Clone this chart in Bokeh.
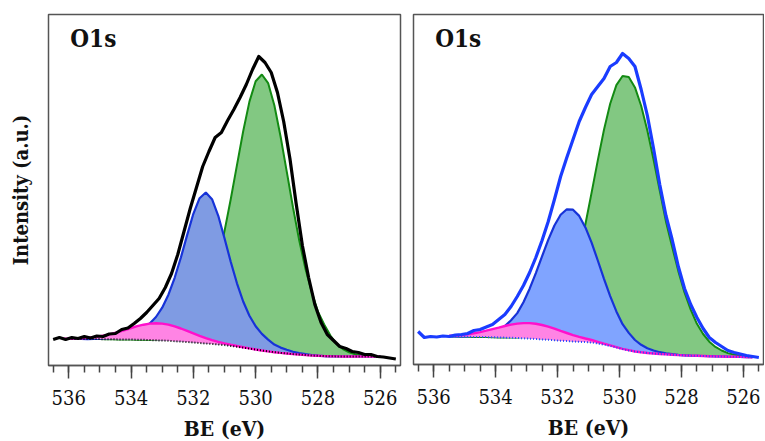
import numpy as np
from bokeh.plotting import figure
from bokeh.layouts import row
from bokeh.models import Range1d, SingleIntervalTicker, FixedTicker, Label
from bokeh.embed import file_html
from bokeh.resources import INLINE

# ---------------- data ----------------
# binding-energy grid of the measured spectra (eV)
be_raw = np.round(np.linspace(536.5, 525.5, 56), 1)

# measured O1s spectrum, left panel (black) and right panel (blue), a.u.
raw_a = [26, 28, 26, 28, 27, 29, 27.5, 29.5, 29, 31.5,
         32, 36, 37.5, 42, 47, 53, 60, 67, 78, 92,
         111, 134, 157, 178, 199, 214, 228, 233, 245, 256,
         268, 281, 296, 309, 303, 293, 273, 244, 207, 162,
         120, 88, 61, 43, 31, 25, 19, 17, 14, 13,
         11, 11, 9, 8.5, 7.5, 6.5]
raw_b = [33, 27, 28, 27.5, 28.5, 28, 29.5, 30, 31, 34,
         35, 37.5, 40, 45, 50, 58, 68, 79, 92, 107,
         124, 143, 165, 188, 207, 225, 243, 257, 270, 278,
         286, 298, 302, 311, 306, 298, 275, 249, 216, 180,
         149, 125, 98, 76, 60, 47, 36, 27, 22, 18,
         14, 12, 10.5, 9, 8, 7]

# fitted components, left panel (grid 536.2 -> 526.0 eV)
be_fit_a = np.round(np.linspace(536.2, 526.0, 52), 1)
base_a = [26.5, 26.5, 26.5, 26.5, 26.4, 26.4, 26.4, 26.3, 26.2, 26.1,
          26.0, 26.0, 25.8, 25.7, 25.5, 25.2, 25.0, 24.7, 24.3, 23.9,
          23.5, 23.0, 22.5, 22.0, 21.5, 21.0, 20.4, 19.6, 18.8, 17.9,
          16.9, 15.9, 15.0, 14.1, 13.3, 12.6, 12.0, 11.4, 10.9, 10.4,
          10.0, 9.7, 9.4, 9.2, 9.1, 9.0, 9.0, 9.0, 9.0, 9.0,
          9.0, 9.0]
pink_a = [0.2, 0.3, 0.5, 0.8, 1.3, 2.0, 2.9, 4.1, 5.7, 7.5,
          9.5, 11.5, 13.5, 15.1, 16.4, 17.0, 16.9, 16.2, 14.8, 13.1,
          11.1, 9.1, 7.1, 5.4, 3.9, 2.7, 1.8, 1.2, 0.7, 0.4,
          0.2, 0.1, 0, 0, 0, 0, 0, 0, 0, 0,
          0, 0, 0, 0, 0, 0, 0, 0, 0, 0,
          0, 0]
blue_a = [0, 0, 0, 0, 0, 0.2, 0.5, 0.9, 1.5, 2.4,
          3.8, 5.3, 7.6, 11.8, 16.6, 23.3, 32.8, 46.1, 63.4, 84.1,
          106.9, 128.7, 144.8, 151, 144.8, 128.7, 106.9, 84.1, 63.4, 46.1,
          32.8, 23.3, 16.6, 11.8, 7.6, 5.3, 3.8, 2.4, 1.5, 0.9,
          0.5, 0.2, 0, 0, 0, 0, 0, 0, 0, 0,
          0, 0]
green_a = [0, 0, 0, 0, 0, 0, 0, 0, 0, 0,
           0, 0, 0, 0, 0.2, 0.6, 1.1, 2.2, 4.1, 7.5,
           12.4, 20.7, 31.7, 44.2, 63.5, 86.1, 114.0, 146.6, 181.6, 216.4,
           247.0, 268.3, 276, 268.3, 247.0, 216.4, 181.6, 146.6, 114.0, 86.1,
           63.5, 44.2, 31.7, 20.7, 12.4, 7.5, 4.1, 2.2, 1.1, 0.6,
           0.2, 0]

# fitted components, right panel (grid 535.5 -> 525.7 eV)
be_fit_b = np.round(np.linspace(535.5, 525.7, 50), 1)
base_b = [28.0, 27.9, 27.8, 27.7, 27.6, 27.5, 27.4, 27.3, 27.1, 26.9,
          26.7, 26.5, 26.2, 25.9, 25.5, 25.1, 24.7, 24.3, 23.8, 23.4,
          23.0, 22.7, 22.4, 22.0, 21.0, 19.8, 18.5, 17.0, 15.4, 14.1,
          13.0, 12.2, 11.5, 11.0, 10.5, 10.1, 9.7, 9.4, 9.1, 8.9,
          8.7, 8.5, 8.3, 8.1, 8.0, 7.8, 7.7, 7.6, 7.4, 7.3]
pink_b = [0.7, 1.1, 1.7, 2.5, 3.6, 4.9, 6.4, 8.1, 9.8, 11.6,
          13.2, 14.4, 15.2, 15.5, 15.2, 14.4, 13.2, 11.6, 9.8, 8.1,
          6.4, 4.9, 3.6, 2.5, 1.7, 1.1, 0.7, 0.4, 0.3, 0.2,
          0, 0, 0, 0, 0, 0, 0, 0, 0, 0,
          0, 0, 0, 0, 0, 0, 0, 0, 0, 0]
blue_b = [0, 0.1, 0.3, 0.6, 1.1, 1.8, 3.0, 4.8, 7.5, 11.5,
          17.5, 24.9, 36.1, 49.9, 65.9, 83.0, 99.9, 114.7, 125.9, 131.8,
          131.8, 125.9, 114.7, 99.9, 83.0, 65.9, 49.9, 36.1, 24.9, 17.5,
          11.5, 7.5, 4.8, 3.0, 1.8, 1.1, 0.6, 0.3, 0.1, 0,
          0, 0, 0, 0, 0, 0, 0, 0, 0, 0]
green_b = [0, 0, 0, 0, 0, 0, 0, 0, 0, 0.1,
           0.3, 0.6, 1.2, 2.3, 4.1, 7.2, 12.1, 19.5, 30.3, 45.2,
           64.7, 89.1, 117.9, 149.9, 183.1, 214.9, 242.2, 262.4, 273.1, 273.3,
           264.1, 246.6, 222.5, 194.0, 163.4, 133.0, 108, 84, 63, 46,
           32, 22, 14.5, 9.5, 6, 3.6, 2.2, 1.3, 0.7, 0.3]

panel_title = "O1s"
x_label = "BE (eV)"
y_label = "Intensity (a.u.)"

SERIF = "DejaVu Serif Condensed, DejaVu Serif"


def make_panel(raw, be_fit, base, pink, blue, green, raw_color, dot_color,
               blue_fill, fw, fh, mbl, mbr, mbt, mbb, ylabel, title_y):
    p = figure(frame_width=fw, frame_height=fh,
               x_range=Range1d(536.65, 525.35), y_range=Range1d(0, fh),
               output_backend="svg", toolbar_location=None,
               min_border_left=mbl, min_border_right=mbr,
               min_border_top=mbt, min_border_bottom=mbb)
    p.grid.visible = False
    p.outline_line_color = "#555555"
    p.outline_line_width = 1.5
    p.background_fill_color = "white"
    p.border_fill_color = "white"

    b = np.array(base, dtype=float)
    gc = b + np.array(green, dtype=float)
    bc = b + np.array(blue, dtype=float)
    pc = b + np.array(pink, dtype=float)

    p.varea(x=be_fit, y1=b, y2=gc, fill_color="#82c882")
    p.line(be_fit, gc, line_color="#138a13", line_width=2)
    p.varea(x=be_fit, y1=b, y2=bc, fill_color=blue_fill)
    p.line(be_fit, bc, line_color="#1733d8", line_width=2.2)
    p.varea(x=be_fit, y1=b, y2=pc, fill_color="#ff84e4")
    p.line(be_fit, pc, line_color="#ff10cc", line_width=2.4)
    p.line(be_fit, b, line_color=dot_color, line_width=2, line_dash="1 2")
    p.line(be_raw, raw, line_color=raw_color, line_width=3.2, line_join="round")

    xa = p.xaxis[0]
    xa.ticker = SingleIntervalTicker(interval=2, num_minor_ticks=4)
    xa.axis_line_color = "#555555"
    xa.axis_line_width = 1.5
    xa.major_tick_in = 0
    xa.major_tick_out = 13
    xa.minor_tick_in = 0
    xa.minor_tick_out = 7
    xa.major_tick_line_color = "#444444"
    xa.major_tick_line_width = 1.5
    xa.minor_tick_line_color = "#444444"
    xa.minor_tick_line_width = 1.5
    xa.major_label_text_font = SERIF
    xa.major_label_text_font_size = "20px"
    xa.major_label_text_color = "#111111"
    xa.major_label_standoff = 11
    xa.axis_label = x_label
    xa.axis_label_text_font = SERIF
    xa.axis_label_text_font_style = "bold"
    xa.axis_label_text_font_size = "21px"
    xa.axis_label_text_color = "#111111"
    xa.axis_label_standoff = 8

    if ylabel:
        ya = p.yaxis[0]
        ya.ticker = FixedTicker(ticks=[])
        ya.axis_line_color = None
        ya.major_tick_line_color = None
        ya.minor_tick_line_color = None
        ya.major_tick_out = 0
        ya.minor_tick_out = 0
        ya.major_label_standoff = 0
        ya.axis_label = ylabel
        ya.axis_label_text_font = SERIF
        ya.axis_label_text_font_style = "bold"
        ya.axis_label_text_font_size = "20px"
        ya.axis_label_text_color = "#111111"
        ya.axis_label_standoff = 16
    else:
        p.yaxis.visible = False

    p.add_layout(Label(x=535.95, y=title_y, text=panel_title, text_font=SERIF,
                       text_font_style="bold", text_font_size="24px",
                       text_baseline="alphabetic", text_color="#111111"))
    return p


p1 = make_panel(raw_a, be_fit_a, base_a, pink_a, blue_a, green_a,
                "#000000", "#000000", "#7f9be3",
                352, 351, 48, 3, 12, 77, y_label, 327)
p2 = make_panel(raw_b, be_fit_b, base_b, pink_b, blue_b, green_b,
                "#1a3cff", "#2a48ff", "#80a4ff",
                350, 350, 10, 1, 14, 76, None, 326)

layout = row(p1, p2)
open("out.html", "w").write(file_html(layout, INLINE))
